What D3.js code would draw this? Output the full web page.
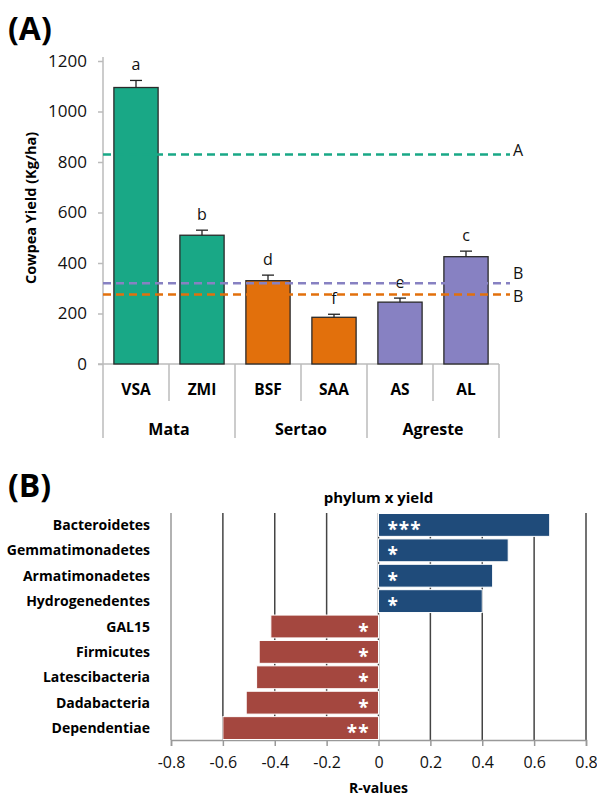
<!DOCTYPE html>
<html>
<head>
<meta charset="utf-8">
<script src="https://cdn.jsdelivr.net/npm/d3@7"></script>
<style>
  body { margin: 0; background: #fff; }
  svg { font-family: "Open Sans", sans-serif; }
</style>
</head>
<body>
<div id="chart"></div>
<script>
// panel A data
var sites = ["VSA", "ZMI", "BSF", "SAA", "AS", "AL"];
var siteRegion = ["Mata", "Mata", "Sertao", "Sertao", "Agreste", "Agreste"];
var yields = [1095, 510, 330, 185, 245, 425];
var yieldErr = [28, 20, 22, 12, 16, 22];
var siteLetters = ["a", "b", "d", "f", "e", "c"];
var regions = ["Mata", "Sertao", "Agreste"];
var regionMeans = [830, 275, 320];
var regionLetters = ["A", "B", "B"];
var yTicks = [0, 200, 400, 600, 800, 1000, 1200];

// panel B data
var phyla = ["Bacteroidetes", "Gemmatimonadetes", "Armatimonadetes", "Hydrogenedentes",
  "GAL15", "Firmicutes", "Latescibacteria", "Dadabacteria", "Dependentiae"];
var rValues = [0.66, 0.50, 0.44, 0.40, -0.415, -0.46, -0.47, -0.51, -0.60];
var stars = ["***", "*", "*", "*", "*", "*", "*", "*", "**"];
var rTicks = [-0.8, -0.6, -0.4, -0.2, 0, 0.2, 0.4, 0.6, 0.8];

var regionColor = d3.scaleOrdinal().domain(regions).range(["#19a886", "#e2700c", "#8781c2"]);

var svg = d3.select("#chart").append("svg")
  .attr("width", 597)
  .attr("height", 800);

// ---------- (A) ----------
svg.append("text").attr("x", 8).attr("y", 40)
  .attr("font-size", 32).attr("font-weight", "bold").text("(A)");

var yA = d3.scaleLinear().domain([0, 1200]).range([364, 61]);
var xA = d3.scaleBand().domain(sites).range([103, 499]).paddingInner(0.33).paddingOuter(0.165);

var gA = svg.append("g");

var yAxis = gA.append("g")
  .attr("transform", "translate(103,0)")
  .call(d3.axisLeft(yA).tickValues(yTicks).tickSize(5).tickPadding(11).tickFormat(d3.format("d")));
yAxis.attr("font-family", "'Open Sans', sans-serif").attr("font-size", 17);
yAxis.select(".domain").remove();
yAxis.selectAll(".tick line").attr("stroke", "#bbb").attr("stroke-width", 1.5);
yAxis.selectAll(".tick text").attr("fill", "#111");

// axis lines and category separators
gA.append("line").attr("x1", 103).attr("x2", 103).attr("y1", 57).attr("y2", 438)
  .attr("stroke", "#bbb").attr("stroke-width", 1.5);
gA.append("line").attr("x1", 98).attr("x2", 499).attr("y1", yA(0)).attr("y2", yA(0))
  .attr("stroke", "#bbb").attr("stroke-width", 1.5);

var step = xA.step();
sites.forEach(function(s, i) {
  var xr = 103 + (i + 1) * step;
  var groupEnd = (i === sites.length - 1) || siteRegion[i] !== siteRegion[i + 1];
  gA.append("line").attr("x1", xr).attr("x2", xr)
    .attr("y1", yA(0)).attr("y2", groupEnd ? 438 : 401)
    .attr("stroke", "#bbb").attr("stroke-width", 1.5);
});

gA.selectAll(".site-label").data(sites).enter().append("text")
  .attr("x", function(d) { return xA(d) + xA.bandwidth() / 2; })
  .attr("y", 395)
  .attr("text-anchor", "middle").attr("font-size", 15.5).attr("font-weight", "bold")
  .text(function(d) { return d; });

regions.forEach(function(r) {
  var idx = sites.filter(function(s, i) { return siteRegion[i] === r; });
  var cx = (xA(idx[0]) + xA(idx[idx.length - 1]) + xA.bandwidth()) / 2;
  gA.append("text").attr("x", cx).attr("y", 435)
    .attr("text-anchor", "middle").attr("font-size", 16).attr("font-weight", "bold")
    .text(r);
});

// bars
gA.selectAll(".bar").data(sites).enter().append("rect")
  .attr("x", function(d) { return xA(d); })
  .attr("y", function(d, i) { return yA(yields[i]); })
  .attr("width", xA.bandwidth())
  .attr("height", function(d, i) { return yA(0) - yA(yields[i]); })
  .attr("fill", function(d, i) { return regionColor(siteRegion[i]); })
  .attr("stroke", "#2a2a2a").attr("stroke-width", 1.3);

// error bars
sites.forEach(function(s, i) {
  var cx = xA(s) + xA.bandwidth() / 2;
  gA.append("line").attr("x1", cx).attr("x2", cx)
    .attr("y1", yA(yields[i])).attr("y2", yA(yields[i] + yieldErr[i]))
    .attr("stroke", "#222").attr("stroke-width", 1.3);
  gA.append("line").attr("x1", cx - 6).attr("x2", cx + 6)
    .attr("y1", yA(yields[i] + yieldErr[i])).attr("y2", yA(yields[i] + yieldErr[i]))
    .attr("stroke", "#222").attr("stroke-width", 1.3);
  gA.append("text").attr("x", cx).attr("y", yA(yields[i] + yieldErr[i]) - 10)
    .attr("text-anchor", "middle").attr("font-size", 16).attr("fill", "#111")
    .text(siteLetters[i]);
});

// region means, labels pushed apart when lines sit close together
var meanLabels = regions.map(function(r, i) {
  return { region: r, letter: regionLetters[i], ly: yA(regionMeans[i]), cy: yA(regionMeans[i]) - 4 };
}).sort(function(a, b) { return a.cy - b.cy; });
for (var k = 1; k < meanLabels.length; k++) {
  var gap = meanLabels[k].cy - meanLabels[k - 1].cy;
  if (gap < 23) {
    var push = (23 - gap) / 2;
    meanLabels[k - 1].cy -= push;
    meanLabels[k].cy += push;
  }
}
meanLabels.forEach(function(m) {
  gA.append("line").attr("x1", 103).attr("x2", 510)
    .attr("y1", m.ly).attr("y2", m.ly)
    .attr("stroke", regionColor(m.region)).attr("stroke-width", 2.5)
    .attr("stroke-dasharray", "8,5");
  gA.append("text").attr("x", 513).attr("y", m.cy + 6)
    .attr("font-size", 16).attr("fill", "#111").text(m.letter);
});

gA.append("text")
  .attr("transform", "translate(36,208) rotate(-90)")
  .attr("text-anchor", "middle").attr("font-size", 14.5).attr("font-weight", "bold")
  .text("Cowpea Yield (Kg/ha)");

// ---------- (B) ----------
svg.append("text").attr("x", 8).attr("y", 497)
  .attr("font-size", 32).attr("font-weight", "bold").text("(B)");

var xB = d3.scaleLinear().domain([-0.8, 0.8]).range([171, 586]);
var yB = d3.scaleBand().domain(phyla).range([513, 740]).paddingInner(0.1).paddingOuter(0.02);

var gB = svg.append("g");

gB.append("text").attr("x", xB(0)).attr("y", 503)
  .attr("text-anchor", "middle").attr("font-size", 15).attr("font-weight", "bold")
  .text("phylum x yield");

// gridlines
gB.selectAll(".grid").data(rTicks.slice(1)).enter().append("line")
  .attr("x1", function(d) { return xB(d); }).attr("x2", function(d) { return xB(d); })
  .attr("y1", 513).attr("y2", 740)
  .attr("stroke", "#444").attr("stroke-width", 1.5);

var xAxisB = gB.append("g")
  .attr("transform", "translate(0,740)")
  .call(d3.axisBottom(xB).tickValues(rTicks).tickSize(6).tickPadding(11)
    .tickFormat(function(d) { return d === 0 ? "0" : d3.format(".1f")(d).replace("\u2212", "-"); }));
xAxisB.attr("font-family", "'Open Sans', sans-serif").attr("font-size", 16);
xAxisB.select(".domain").attr("stroke", "#999").attr("stroke-width", 1.5);
xAxisB.selectAll(".tick line").attr("stroke", "#999").attr("stroke-width", 1.5);
xAxisB.selectAll(".tick text").attr("fill", "#111");

gB.append("line").attr("x1", 171).attr("x2", 171).attr("y1", 513).attr("y2", 740)
  .attr("stroke", "#999").attr("stroke-width", 1.5);

gB.selectAll(".rbar").data(phyla).enter().append("rect")
  .attr("x", function(d, i) { return xB(Math.min(0, rValues[i])); })
  .attr("y", function(d) { return yB(d); })
  .attr("width", function(d, i) { return Math.abs(xB(rValues[i]) - xB(0)); })
  .attr("height", yB.bandwidth())
  .attr("fill", function(d, i) { return rValues[i] > 0 ? "#1f4b7a" : "#a4473f"; })
  .attr("stroke", "#fff").attr("stroke-width", 1);

gB.selectAll(".star").data(phyla).enter().append("text")
  .attr("x", function(d, i) { return rValues[i] > 0 ? xB(0) + 9 : xB(0) - 9; })
  .attr("y", function(d) { return yB(d) + yB.bandwidth() / 2 + 11; })
  .attr("text-anchor", function(d, i) { return rValues[i] > 0 ? "start" : "end"; })
  .attr("font-size", 19).attr("font-weight", "bold").attr("fill", "#fff")
  .attr("letter-spacing", 1)
  .text(function(d, i) { return stars[i]; });

gB.selectAll(".phy").data(phyla).enter().append("text")
  .attr("x", 150)
  .attr("y", function(d) { return yB(d) + yB.bandwidth() / 2 + 5; })
  .attr("text-anchor", "end").attr("font-size", 14).attr("font-weight", "bold")
  .text(function(d) { return d; });

gB.append("text").attr("x", xB(0)).attr("y", 793)
  .attr("text-anchor", "middle").attr("font-size", 14).attr("font-weight", "bold")
  .text("R-values");
</script>
</body>
</html>
